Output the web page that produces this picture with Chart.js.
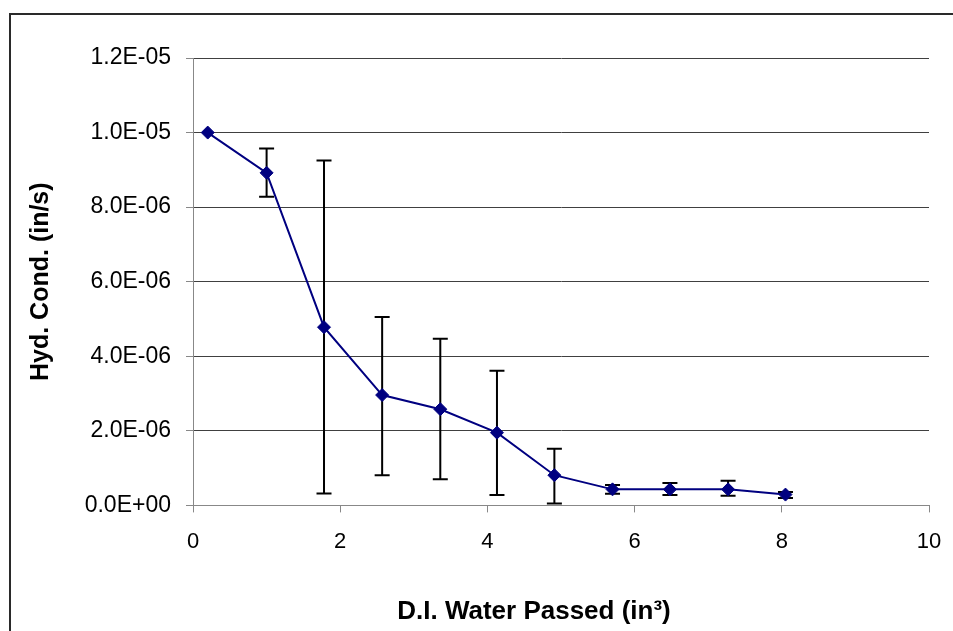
<html>
    <head>
        <meta charset="UTF-8">
        <title>Hyd. Cond.</title>

        <script src="https://cdn.jsdelivr.net/npm/chart.js"></script>

        <style>
            body {
                margin: 0;
                background: #fff;
                overflow: hidden;
            }

            .chart_box {
                position: absolute;
                left: 9px;
                top: 13px;
                border: 2px solid #2a2a2a;
            }
        </style>
    </head>

    <body>
        <div class='chart_box'>
            <canvas id='hydCond' width='1046' height='650'></canvas>
        </div>

        <script>
            // water passed (in^3)
            const waterPassed = [0.2, 1.0, 1.78, 2.57, 3.36, 4.13, 4.91, 5.7, 6.48, 7.27, 8.05];
            // hydraulic conductivity (in/s)
            const hydCond = [1.0e-5, 8.92e-6, 4.78e-6, 2.96e-6, 2.58e-6, 1.95e-6, 8.1e-7, 4.3e-7, 4.3e-7, 4.3e-7, 2.9e-7];
            // error bar ends
            const errHigh = [null, 9.57e-6, 9.25e-6, 5.05e-6, 4.47e-6, 3.61e-6, 1.52e-6, 5.5e-7, 6.0e-7, 6.6e-7, 3.6e-7];
            const errLow = [null, 8.28e-6, 3.2e-7, 8.1e-7, 7.0e-7, 2.8e-7, 5e-8, 3.1e-7, 2.8e-7, 2.6e-7, 2.0e-7];

            const yTicks = [0, 2e-6, 4e-6, 6e-6, 8e-6, 1e-5, 1.2e-5];

            function sciLabel(v) {
                if (v === 0) return '0.0E+00';
                const parts = v.toExponential(1).split('e');
                const exp = parseInt(parts[1], 10);
                const sign = exp < 0 ? '-' : '+';
                const digits = String(Math.abs(exp)).padStart(2, '0');
                return parts[0] + 'E' + sign + digits;
            }

            const errorBars = {
                id: 'errorBars',
                beforeDatasetsDraw(chart) {
                    const ctx = chart.ctx;
                    const xs = chart.scales.x;
                    const ys = chart.scales.y;
                    ctx.save();
                    ctx.strokeStyle = '#000';
                    ctx.lineWidth = 2;
                    for (let i = 0; i < waterPassed.length; i++) {
                        if (errHigh[i] === null) continue;
                        const px = xs.getPixelForValue(waterPassed[i]);
                        const top = ys.getPixelForValue(errHigh[i]);
                        const bot = ys.getPixelForValue(errLow[i]);
                        ctx.beginPath();
                        ctx.moveTo(px, top);
                        ctx.lineTo(px, bot);
                        ctx.moveTo(px - 7.5, top);
                        ctx.lineTo(px + 7.5, top);
                        ctx.moveTo(px - 7.5, bot);
                        ctx.lineTo(px + 7.5, bot);
                        ctx.stroke();
                    }
                    ctx.restore();
                }
            };

            const points = waterPassed.map((x, i) => ({ x: x, y: hydCond[i] }));

            const font = "'Liberation Sans', Arial, sans-serif";

            new Chart(document.getElementById('hydCond'), {
                type: 'line',
                data: {
                    datasets: [{
                        data: points,
                        borderColor: '#000080',
                        backgroundColor: '#000080',
                        borderWidth: 2,
                        pointStyle: 'rectRot',
                        pointRadius: 6.5,
                        pointBorderWidth: 1,
                        tension: 0
                    }]
                },
                options: {
                    responsive: false,
                    animation: false,
                    devicePixelRatio: 1,
                    layout: {
                        padding: { top: 43, right: 0, bottom: 0, left: 0 }
                    },
                    plugins: {
                        legend: { display: false },
                        tooltip: { enabled: false },
                        title: {
                            display: true,
                            position: 'bottom',
                            text: 'D.I. Water Passed (in³)',
                            color: '#000',
                            font: { family: font, size: 26, weight: 'bold' },
                            padding: { top: 25, bottom: 38 }
                        }
                    },
                    scales: {
                        x: {
                            type: 'linear',
                            min: 0,
                            max: 10,
                            ticks: {
                                stepSize: 2,
                                padding: 16,
                                color: '#000',
                                font: { family: font, size: 22 }
                            },
                            grid: {
                                drawOnChartArea: false,
                                drawTicks: true,
                                tickLength: 7,
                                color: '#888'
                            },
                            border: { color: '#888', width: 1 }
                        },
                        y: {
                            min: 0,
                            max: 1.2e-5,
                            afterBuildTicks(scale) {
                                scale.ticks = yTicks.map(v => ({ value: v }));
                            },
                            afterFit(scale) {
                                scale.width = 182;
                            },
                            ticks: {
                                padding: 15,
                                color: '#000',
                                font: { family: font, size: 23 },
                                callback: (v) => sciLabel(v)
                            },
                            grid: {
                                color: '#404040',
                                tickColor: '#888',
                                tickLength: 7
                            },
                            border: { color: '#888', width: 1 },
                            title: {
                                display: true,
                                text: 'Hyd. Cond. (in/s)',
                                color: '#000',
                                font: { family: font, size: 25, weight: 'bold' },
                                padding: { top: 15, bottom: 0 }
                            }
                        },
                        // empty right-hand space beside the plot
                        yRight: {
                            position: 'right',
                            display: true,
                            min: 0,
                            max: 1,
                            afterFit(scale) {
                                scale.width = 128;
                            },
                            ticks: { display: false },
                            grid: { display: false },
                            border: { display: false }
                        }
                    }
                },
                plugins: [errorBars]
            });
        </script>
    </body>
</html>
